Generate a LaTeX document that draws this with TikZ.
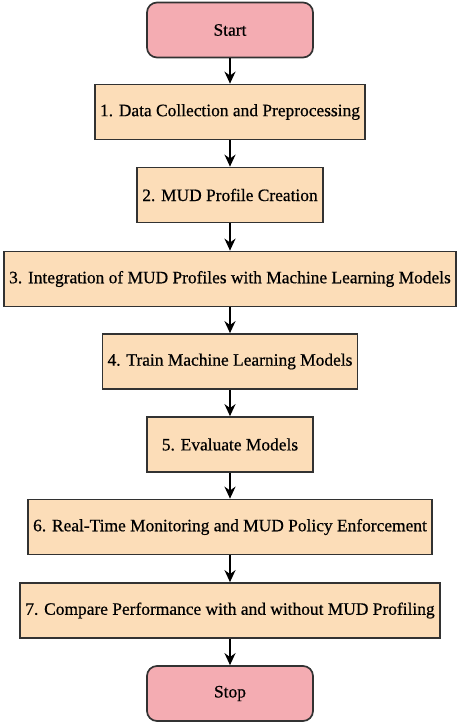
\documentclass[tikz,border=0pt]{standalone}
\usepackage{fontspec}
\setmainfont{Liberation Serif}
\newfontfamily\flfont{Liberation Serif}[FakeBold=0.6]
\usepackage{xcolor}
\definecolor{flpink}{RGB}{244,172,178}
\definecolor{flpeach}{RGB}{252,221,184}
\definecolor{flline}{RGB}{50,50,50}
\usetikzlibrary{arrows.meta,positioning}

\begin{document}
\begin{tikzpicture}[
  term/.style={draw=flline,fill=flpink,rounded corners=5pt,line width=0.85pt,minimum width=83pt,minimum height=27.5pt,font=\flfont\fontsize{8.7}{10}\selectfont},
  stepbox/.style={draw=flline,fill=flpeach,line width=0.85pt,inner xsep=2.6pt,minimum width=83pt,minimum height=27.5pt,font=\flfont\fontsize{8.7}{10}\selectfont},
  flow/.style={-{Stealth[length=6pt,width=5.5pt]},line width=1pt,black}]
  \useasboundingbox (0,0) rectangle (230pt,-361.5pt);
  % Terminals and steps
  \node[term] (start) at (115pt,-15pt) {Start};
  \node[stepbox] (collect) at (115pt,-56pt) {1. Data Collection and Preprocessing};
  \node[stepbox] (profile) at (115pt,-97.5pt) {2. MUD Profile Creation};
  \node[stepbox] (integrate) at (115pt,-139.5pt) {3. Integration of MUD Profiles with Machine Learning Models};
  \node[stepbox] (train) at (115pt,-180.75pt) {4. Train Machine Learning Models};
  \node[stepbox] (evaluate) at (115pt,-222.25pt) {5. Evaluate Models};
  \node[stepbox] (monitor) at (115pt,-263.5pt) {6. Real-Time Monitoring and MUD Policy Enforcement};
  \node[stepbox] (compare) at (115pt,-305.25pt) {7. Compare Performance with and without MUD Profiling};
  \node[term] (stop) at (115pt,-346.75pt) {Stop};
  % Arrows
  \draw[flow] (start) -- (collect);
  \draw[flow] (collect) -- (profile);
  \draw[flow] (profile) -- (integrate);
  \draw[flow] (integrate) -- (train);
  \draw[flow] (train) -- (evaluate);
  \draw[flow] (evaluate) -- (monitor);
  \draw[flow] (monitor) -- (compare);
  \draw[flow] (compare) -- (stop);
\end{tikzpicture}
\end{document}
